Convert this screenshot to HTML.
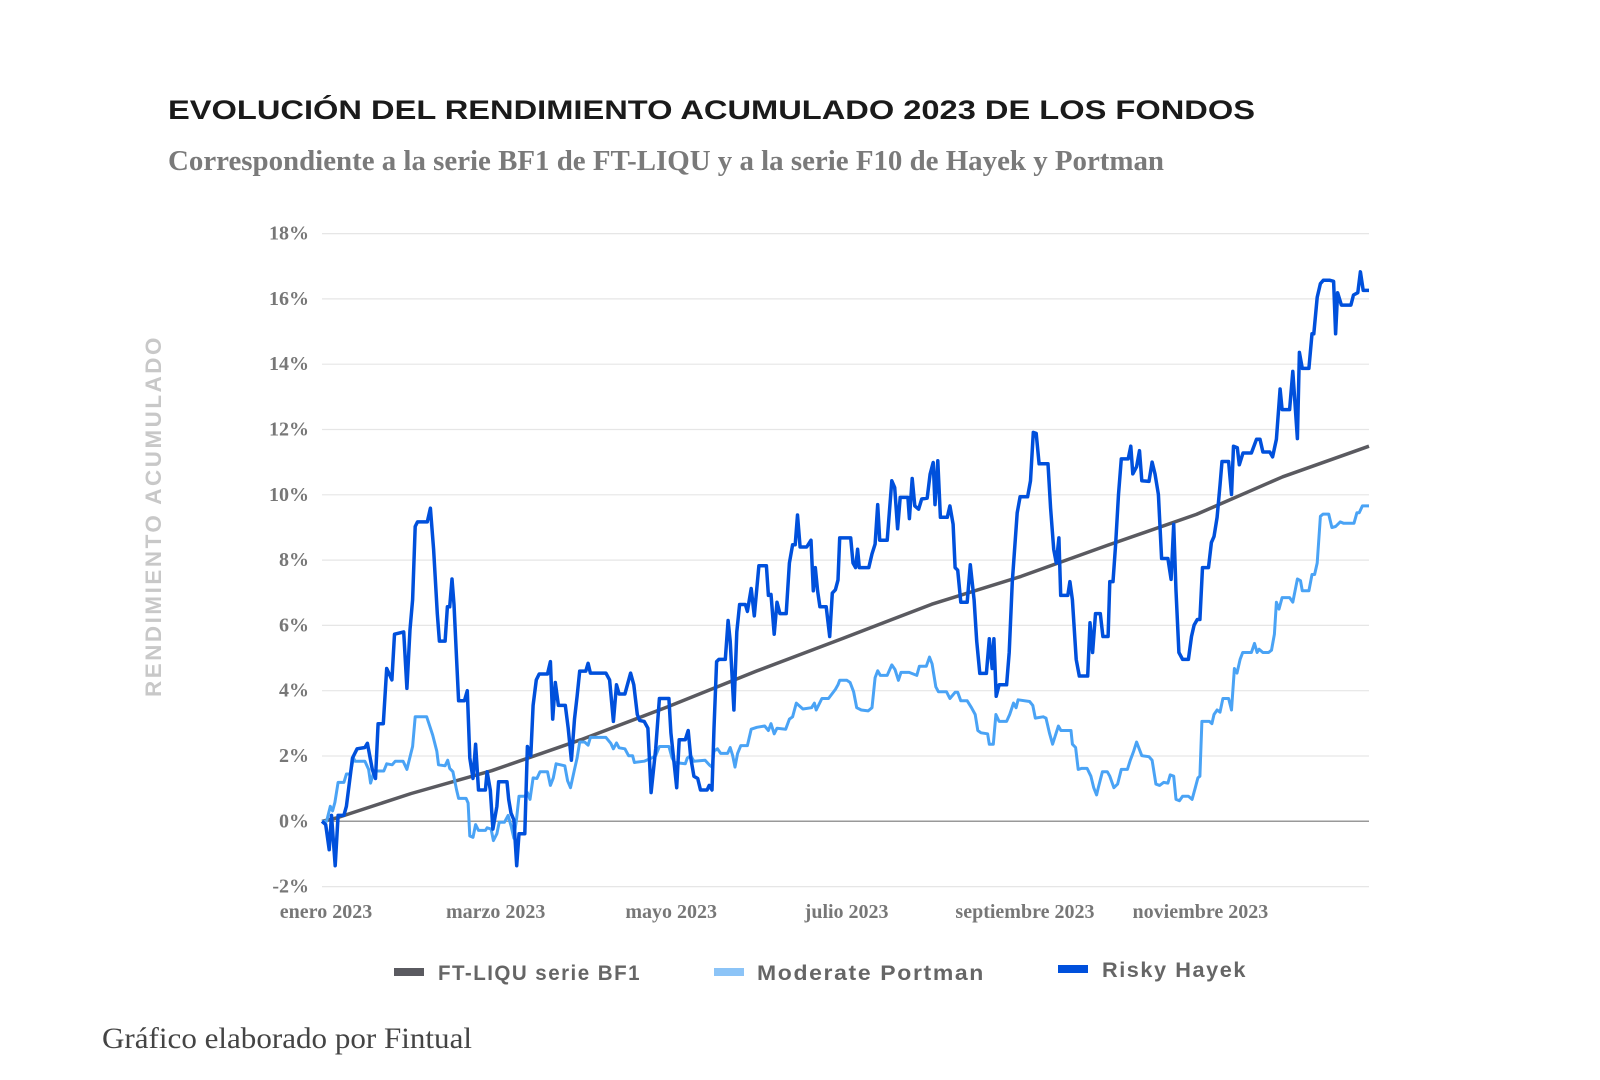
<!DOCTYPE html>
<html><head><meta charset="utf-8"><style>
html,body{margin:0;padding:0;background:#fff;}
svg{display:block;}
</style></head><body>
<svg id="chart" width="1600" height="1080" viewBox="0 0 1600 1080" xmlns="http://www.w3.org/2000/svg">
<text x="168" y="119" font-family="Liberation Sans, sans-serif" font-weight="bold" font-size="27" fill="#1a1a1a" textLength="1087" lengthAdjust="spacingAndGlyphs">EVOLUCIÓN DEL RENDIMIENTO ACUMULADO 2023 DE LOS FONDOS</text>
<text x="168" y="170" font-family="Liberation Serif, serif" font-weight="bold" font-size="28" fill="#7a7a7a" textLength="996" lengthAdjust="spacingAndGlyphs">Correspondiente a la serie BF1 de FT-LIQU y a la serie F10 de Hayek y Portman</text>
<text transform="translate(161,516) rotate(-90)" text-anchor="middle" font-family="Liberation Sans, sans-serif" font-weight="bold" font-size="22" fill="#c8c8c8" letter-spacing="2.5" textLength="362" lengthAdjust="spacingAndGlyphs">RENDIMIENTO ACUMULADO</text>
<g id="grid"></g><g id="yticks"></g><g id="xticks"></g><g id="series"></g>
<g>
 <g><rect x="394" y="968" width="30" height="8" fill="#5a5a60"/><text x="438" y="980" font-family="Liberation Sans, sans-serif" font-weight="bold" font-size="21" fill="#666" letter-spacing="1.5" textLength="203" lengthAdjust="spacingAndGlyphs">FT-LIQU serie BF1</text></g>
 <g><rect x="714" y="968" width="30" height="8" fill="#8cc4f7"/><text x="757" y="980" font-family="Liberation Sans, sans-serif" font-weight="bold" font-size="21" fill="#666" letter-spacing="1.5" textLength="228" lengthAdjust="spacingAndGlyphs">Moderate Portman</text></g>
 <g><rect x="1058" y="965" width="30" height="8" fill="#0050dc"/><text x="1102" y="977" font-family="Liberation Sans, sans-serif" font-weight="bold" font-size="21" fill="#666" letter-spacing="1.5" textLength="145" lengthAdjust="spacingAndGlyphs">Risky Hayek</text></g>
</g>
<text x="102" y="1048" font-family="Liberation Serif, serif" font-size="30" fill="#444" textLength="370" lengthAdjust="spacingAndGlyphs">Gráfico elaborado por Fintual</text>
</svg>
<script>
const yTicks=[-2,0,2,4,6,8,10,12,14,16,18];
const yTickLabels=["-2%","0%","2%","4%","6%","8%","10%","12%","14%","16%","18%"];
const xTickDays=[0,59,120,181,243,304];
const xTickLabels=["enero 2023","marzo 2023","mayo 2023","julio 2023","septiembre 2023","noviembre 2023"];
const liquDays=[0,5,31,59,90,120,151,181,212,243,273,304,334,364];
const liquVals=[0,0.1,0.85,1.55,2.5,3.5,4.6,5.6,6.65,7.5,8.45,9.4,10.55,11.49];
const riskyDays=[0,1.3,2.5,3.3,4.6,5.6,7.6,8.5,10.6,12.2,14.9,15.8,17.5,18.6,19.5,21.3,22.5,24.3,25.2,28.4,29.5,30.6,31.5,32.4,33.2,36.6,37.7,38.8,40.1,40.8,42.8,43.6,44.4,45.2,45.9,46.8,47.5,49.5,50.5,51.4,52.5,53.4,54.4,56.8,57.4,58.5,59.4,60.8,61.4,64.3,64.9,65.7,66.7,67.7,68.5,70.5,71.4,72.6,73.4,74.5,75.5,78.4,79.4,80.2,81.1,82.2,84.6,85.6,86.7,87.8,88.7,89.6,91.7,92.5,93.3,98.7,100.0,101.3,102.4,103.3,105.3,107.3,108.4,109.6,110.4,112.0,113.3,114.4,116.0,117.3,120.6,121.3,123.3,124.2,126.3,127.3,128.2,129.3,130.6,131.6,133.9,134.6,135.6,136.3,137.2,138.0,140.2,141.2,141.9,143.2,144.2,145.2,147.2,147.9,149.2,150.3,151.9,154.5,155.2,156.1,157.2,158.2,159.2,161.4,162.5,163.6,164.5,165.3,166.2,168.5,170.0,170.8,171.5,172.3,173.1,175.3,176.5,177.4,178.5,179.4,180.0,182.5,183.8,184.6,185.5,186.2,186.8,190.1,191.2,192.3,193.2,193.9,196.5,198.1,199.1,200.1,201.0,203.7,204.2,205.2,206.1,207.4,208.5,210.4,211.4,212.5,213.1,214.1,215.0,217.4,218.3,219.4,220.1,221.0,222.1,224.3,225.4,226.7,227.6,228.7,231.0,232.0,233.0,233.6,234.4,235.4,238.0,238.9,240.0,241.7,242.7,245.3,246.3,247.3,248.3,249.3,252.4,253.3,254.4,255.3,256.2,256.8,259.3,260.0,260.9,262.2,263.3,266.2,267.0,267.9,268.9,270.6,271.5,273.3,273.9,275.0,275.9,276.9,277.9,280.3,281.2,281.9,283.2,284.2,285.0,287.5,288.6,289.6,290.8,291.9,294.1,295.2,296.1,296.9,297.9,299.2,301.2,302.3,303.2,304.3,305.2,306.1,308.2,309.2,310.1,311.2,312.2,312.9,315.2,316.2,316.9,318.2,318.9,320.2,323.1,324.9,326.1,327.1,329.5,330.5,331.8,333.1,333.8,336.4,337.5,339.1,339.8,340.8,343.1,344.2,344.8,346.0,347.1,348.1,350.4,351.7,352.4,353.1,354.4,357.7,358.6,360.1,361.0,362.0,364.0];
const riskyVals=[0,-0.10,-0.87,0.18,-1.36,0.18,0.18,0.46,1.94,2.22,2.26,2.39,1.59,1.31,2.99,2.99,4.68,4.33,5.73,5.80,4.07,5.87,6.78,9.03,9.17,9.17,9.59,8.33,6.36,5.52,5.52,6.57,6.57,7.42,6.64,4.96,3.69,3.69,4.00,1.94,1.31,2.36,0.96,0.96,1.52,0.96,-0.24,0.46,1.21,1.21,0.67,0.25,0.04,-1.36,-0.38,-0.38,2.29,2.01,3.55,4.33,4.51,4.51,4.89,3.13,4.25,3.55,3.55,2.85,1.87,3.13,3.83,4.60,4.60,4.84,4.54,4.54,4.33,3.06,4.18,3.90,3.90,4.54,4.18,3.27,3.09,3.06,2.85,0.88,2.22,3.76,3.76,2.71,1.03,2.50,2.50,2.78,1.94,1.38,1.31,0.96,0.96,1.10,0.96,2.85,4.89,4.96,4.96,6.15,5.52,3.41,5.80,6.64,6.64,6.43,7.13,6.29,7.83,7.83,6.92,6.95,5.73,6.71,6.36,6.36,7.91,8.47,8.47,9.38,8.40,8.40,8.61,7.06,7.77,7.06,6.57,6.57,5.66,6.99,7.09,7.39,8.68,8.68,8.68,7.91,7.77,8.33,7.77,7.77,8.19,8.49,9.70,8.61,8.61,10.43,10.22,8.96,9.92,9.92,9.27,10.50,9.66,9.56,9.87,9.90,10.63,10.99,9.70,11.04,9.31,9.31,9.66,9.10,7.77,7.69,6.71,6.71,7.86,6.78,5.52,4.53,4.53,5.59,4.68,5.59,3.83,4.18,4.18,5.17,7.34,9.45,9.94,9.94,10.43,11.91,11.88,10.95,10.95,9.59,8.33,7.91,8.68,6.92,6.92,7.34,6.78,4.96,4.45,4.45,6.08,5.17,6.36,6.36,5.66,5.66,7.34,7.34,8.47,10.01,11.10,11.10,11.49,10.64,10.86,11.35,10.43,10.41,11.00,10.64,10.01,8.05,8.05,7.41,9.10,7.06,5.17,4.96,4.96,5.66,6.01,6.18,6.18,7.77,7.77,8.54,8.72,9.31,10.29,11.02,11.02,10.01,11.49,11.44,10.92,11.28,11.28,11.70,11.70,11.31,11.31,11.16,11.70,13.24,12.61,12.61,13.78,11.72,14.36,13.87,13.87,14.93,14.93,16.05,16.47,16.57,16.57,16.54,14.93,16.19,15.81,15.81,16.12,16.19,16.83,16.26,16.26];
const modDays=[0,1.6,2.9,3.7,4.5,5.6,7.6,8.5,9.8,10.9,11.5,14.9,16.2,16.9,17.8,18.6,21.5,22.5,24.4,25.5,28.2,29.5,31.5,32.4,36.4,38.5,39.9,40.5,42.8,43.7,44.4,45.5,46.8,47.5,50.1,50.8,51.4,52.5,53.4,54.4,56.8,57.4,58.8,59.6,60.8,61.6,63.4,64.7,65.8,66.7,67.7,68.5,70.5,71.4,72.3,73.4,74.7,75.8,78.4,79.4,80.4,81.4,84.4,85.4,86.4,87.8,88.7,89.6,91.3,92.5,93.3,98.7,100.4,101.3,102.4,103.3,105.3,106.6,108.0,108.6,112.0,114.6,116.0,117.3,120.6,121.7,122.6,126.3,127.0,128.2,129.3,133.2,134.6,135.6,136.3,137.5,138.6,141.0,141.9,142.8,143.6,144.5,145.6,147.9,149.2,151.2,153.9,155.2,156.1,157.2,158.2,161.2,162.5,163.6,164.9,167.2,170.2,171.2,171.8,173.8,176.1,178.5,179.4,180.0,182.5,183.6,184.8,185.9,187.5,189.9,191.2,192.3,193.2,194.1,196.5,198.1,199.2,200.4,201.3,204.1,206.8,207.7,210.1,211.2,212.1,213.4,214.3,217.1,218.3,220.1,221.0,222.1,224.3,225.8,227.1,228.0,229.1,231.4,232.0,233.4,234.3,235.4,238.0,239.1,240.4,241.3,242.0,246.0,247.1,248.0,250.7,251.7,252.9,254.0,255.0,256.0,256.9,260.4,260.9,262.0,262.9,264.0,266.0,267.3,268.3,269.3,269.9,271.3,273.0,273.9,275.3,276.6,277.9,280.0,281.0,282.2,283.2,285.0,287.5,288.6,289.9,291.2,292.6,294.1,294.9,296.1,296.9,298.1,299.2,301.2,302.5,303.6,304.5,305.2,305.9,308.5,309.4,310.1,311.2,312.2,313.2,315.2,316.2,317.2,318.1,319.2,320.1,323.1,324.2,325.1,325.8,327.1,329.1,330.1,331.1,331.8,332.7,333.8,336.4,337.5,339.1,340.2,340.8,343.1,344.2,345.1,346.0,347.1,348.0,350.0,351.1,352.4,354.0,355.1,358.8,359.8,360.6,361.7,364.0];
const modVals=[0,0,0.46,0.32,0.58,1.19,1.19,1.45,1.45,1.94,1.84,1.84,1.59,1.17,1.45,1.54,1.54,1.76,1.73,1.84,1.84,1.59,2.29,3.20,3.20,2.64,2.15,1.73,1.70,1.87,1.62,1.52,0.96,0.70,0.70,0.56,-0.45,-0.49,-0.10,-0.28,-0.28,-0.20,-0.24,-0.59,-0.38,-0.03,-0.03,0.18,-0.17,-0.52,0.11,0.77,0.77,0.88,0.67,1.33,1.31,1.52,1.52,1.10,1.33,1.76,1.70,1.24,1.03,1.59,1.94,2.43,2.43,2.33,2.57,2.57,2.39,2.22,2.40,2.25,2.22,2.01,2.01,1.80,1.84,1.94,2.01,2.29,2.29,1.94,1.80,1.76,1.94,2.01,1.84,1.87,1.73,1.66,2.15,2.22,2.08,2.08,2.26,2.01,1.66,2.08,2.32,2.32,2.82,2.88,2.92,2.78,2.99,2.68,2.85,2.82,3.13,3.20,3.62,3.44,3.48,3.62,3.41,3.76,3.76,4.04,4.18,4.32,4.32,4.25,3.97,3.48,3.41,3.38,3.48,4.40,4.61,4.47,4.47,4.79,4.65,4.32,4.56,4.56,4.47,4.75,4.75,5.03,4.82,4.12,3.97,3.97,3.76,3.95,3.95,3.69,3.69,3.48,3.27,2.78,2.71,2.68,2.36,2.36,3.27,3.06,3.06,3.27,3.62,3.48,3.72,3.67,3.55,3.16,3.20,3.16,2.71,2.36,2.64,2.92,2.78,2.78,2.36,2.26,1.59,1.62,1.62,1.38,1.03,0.81,1.03,1.52,1.52,1.38,1.03,1.14,1.59,1.59,1.87,2.15,2.43,2.01,1.98,1.87,1.14,1.10,1.19,1.17,1.42,1.38,0.67,0.63,0.77,0.77,0.67,1.03,1.33,1.38,3.06,3.06,2.99,3.27,3.41,3.34,3.76,3.76,3.41,4.68,4.54,4.96,5.17,5.17,5.45,5.17,5.27,5.17,5.17,5.24,5.73,6.71,6.50,6.85,6.85,6.71,7.42,7.37,7.06,7.06,7.56,7.56,7.91,9.34,9.41,9.41,9.00,9.03,9.17,9.13,9.13,9.45,9.45,9.66,9.66];

const NS='http://www.w3.org/2000/svg';
const X0=322,X1=1369,Y0=821.3,PX=32.65;
function xScale(d){return X0+(d/364)*(X1-X0);}
function yScale(v){return Y0-v*PX;}
function mk(tag,attrs,parent){const e=document.createElementNS(NS,tag);for(const k in attrs)e.setAttribute(k,attrs[k]);parent.appendChild(e);return e;}
const grid=document.getElementById('grid'),yt=document.getElementById('yticks'),xt=document.getElementById('xticks'),ser=document.getElementById('series');
yTicks.forEach((v,i)=>{
  const l=mk('line',{x1:X0,x2:X1,y1:yScale(v),y2:yScale(v),stroke:v===0?'#999':'#e6e6e6','stroke-width':v===0?1.5:1.2},grid);
  
  
  const t=mk('text',{x:309,y:yScale(v)+6,'text-anchor':'end','font-family':'Liberation Serif, serif','font-weight':'bold','font-size':20,fill:'#777'},yt);
  t.textContent=yTickLabels[i];
  
  
});
xTickDays.forEach((d,i)=>{
  const t=mk('text',{x:xScale(d)+4,y:918,'text-anchor':'middle','font-family':'Liberation Serif, serif','font-weight':'bold','font-size':20,fill:'#777'},xt);
  t.textContent=xTickLabels[i];
  
  
});
function line(days,vals,color,w,name){
  const p=days.map((d,i)=>(i?'L':'M')+xScale(d).toFixed(1)+','+yScale(vals[i]).toFixed(1)).join('');
  const e=mk('path',{d:p,fill:'none',stroke:color,'stroke-width':w,'stroke-linejoin':'round'},ser);
  
  
}
line(liquDays,liquVals,'#5a5a60',3.5,'ft-liqu-line');
line(modDays,modVals,'#4aa3f5',3,'moderate-portman-line');
line(riskyDays,riskyVals,'#0050dc',3.5,'risky-hayek-line');
</script>
</body></html>
